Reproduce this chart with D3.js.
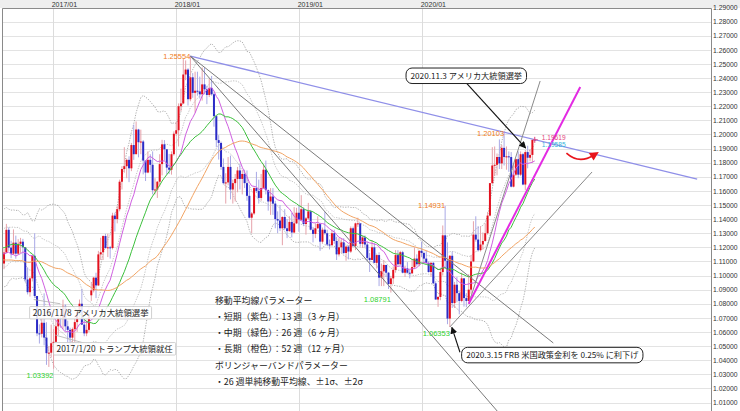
<!DOCTYPE html>
<html><head><meta charset="utf-8">
<script src="https://cdn.jsdelivr.net/npm/d3@7"></script>
<style>
body{margin:0;background:#fff;}
svg{display:block;}
</style>
</head><body>
<svg id="c" width="740" height="411"></svg>
<script>
// ---------------- DATA ----------------
const firstWeek = "2016-08-01";          // Monday of first visible weekly candle
const viewRange = ["2016-08-02", "2022-05-07"]; // time span of the plot area
const priceRange = [1.01, 1.29];
const yTickLabels = ["1.01000","1.02000","1.03000","1.04000","1.05000","1.06000","1.07000","1.08000","1.09000","1.10000",
  "1.11000","1.12000","1.13000","1.14000","1.15000","1.16000","1.17000","1.18000","1.19000","1.20000",
  "1.21000","1.22000","1.23000","1.24000","1.25000","1.26000","1.27000","1.28000","1.29000"];
const yearTicks = ["2017-01-01","2018-01-01","2019-01-01","2020-01-01"];
const yearTickLabels = ["2017/01","2018/01","2019/01","2020/01"];

// weekly closes before the visible range (Aug 2015 - Jul 2016), used for MA / Bollinger warm-up
const warmupCloses = [1.0965,1.1105,1.1385,1.1180,1.1150,1.1340,1.1295,1.1195,1.1215,1.1355,1.1350,1.1015,1.1005,
  1.0740,1.0770,1.0645,1.0595,1.0880,1.0990,1.0865,1.0965,1.0860,1.0925,1.0915,1.0795,1.0830,
  1.1155,1.1255,1.1130,1.0935,1.1000,1.1150,1.1270,1.1165,1.1390,1.1395,1.1285,1.1225,1.1455,
  1.1405,1.1310,1.1225,1.1115,1.1365,1.1255,1.1280,1.1115,1.1135,1.1050,1.1040,1.0975,1.1175];

// weekly OHLC, EUR/USD, Aug 2016 - Nov 2020
const ohlc = [
// 2016
[1.1175,1.1235,1.1046,1.1085],[1.1085,1.1188,1.1045,1.1163],[1.1163,1.1366,1.1160,1.1324],[1.1324,1.1342,1.1175,1.1198],
[1.1198,1.1247,1.1123,1.1155],[1.1155,1.1327,1.1145,1.1233],[1.1233,1.1283,1.1119,1.1155],[1.1155,1.1258,1.1150,1.1225],
[1.1225,1.1267,1.1160,1.1240],[1.1240,1.1260,1.1106,1.1200],[1.1200,1.1202,1.0953,1.0972],[1.0972,1.1058,1.0866,1.0882],
[1.0882,1.0990,1.0851,1.0980],[1.0980,1.1146,1.0958,1.1140],[1.1140,1.1300,1.0840,1.0855],[1.0855,1.0855,1.0570,1.0590],
[1.0590,1.0654,1.0518,1.0587],[1.0587,1.0701,1.0561,1.0665],[1.0665,1.0874,1.0505,1.0560],[1.0560,1.0669,1.0367,1.0450],
[1.0450,1.0499,1.0352,1.0453],[1.0453,1.0652,1.0420,1.0520],
// 2017
[1.0520,1.0620,1.03392,1.0530],[1.0530,1.0684,1.0454,1.0640],[1.0640,1.0775,1.0578,1.0700],[1.0700,1.0775,1.0630,1.0695],
[1.0695,1.0829,1.0620,1.0785],[1.0785,1.0795,1.0605,1.0640],[1.0640,1.0680,1.0520,1.0615],[1.0615,1.0630,1.0494,1.0560],
[1.0560,1.0631,1.0495,1.0620],[1.0620,1.0714,1.0525,1.0670],[1.0670,1.0762,1.0600,1.0740],[1.0740,1.0830,1.0700,1.0800],
[1.0800,1.0906,1.0650,1.0652],[1.0652,1.0700,1.0570,1.0590],[1.0590,1.0680,1.0570,1.0615],[1.0615,1.0780,1.0600,1.0725],
[1.0860,1.0950,1.0820,1.0895],[1.0895,1.0990,1.0880,1.0985],[1.0985,1.1020,1.0840,1.0930],[1.0930,1.1175,1.0925,1.1150],
[1.1150,1.1268,1.1110,1.1165],[1.1165,1.1285,1.1110,1.1280],[1.1280,1.1296,1.1190,1.1195],[1.1195,1.1296,1.1131,1.1200],
[1.1200,1.1210,1.1120,1.1195],[1.1195,1.1445,1.1185,1.1425],[1.1425,1.1445,1.1312,1.1400],[1.1400,1.1490,1.1370,1.1470],
[1.1470,1.1680,1.1455,1.1665],[1.1665,1.1775,1.1610,1.1755],[1.1755,1.1910,1.1729,1.1775],[1.1775,1.1830,1.1690,1.1820],
[1.1820,1.1845,1.1662,1.1760],[1.1760,1.1940,1.1740,1.1925],[1.1925,1.2070,1.1820,1.1860],[1.1860,1.2092,1.1860,1.2035],
[1.2035,1.2040,1.1838,1.1945],[1.1945,1.2034,1.1860,1.1950],[1.1950,1.1960,1.1717,1.1815],[1.1815,1.1815,1.1670,1.1730],
[1.1730,1.1880,1.1725,1.1820],[1.1820,1.1860,1.1730,1.1785],[1.1785,1.1880,1.1575,1.1605],[1.1605,1.1690,1.1575,1.1610],
[1.1610,1.1670,1.1550,1.1665],[1.1665,1.1860,1.1630,1.1790],[1.1790,1.1962,1.1710,1.1930],[1.1930,1.1960,1.1815,1.1895],
[1.1895,1.1895,1.1715,1.1765],[1.1765,1.1862,1.1720,1.1750],[1.1750,1.1880,1.1715,1.1860],[1.1860,1.2022,1.1850,1.2005],
// 2018
[1.2005,1.2090,1.1990,1.2030],[1.2030,1.2220,1.1915,1.2200],[1.2200,1.2325,1.2165,1.2220],[1.2220,1.2537,1.2215,1.2425],
[1.2425,1.2525,1.2385,1.2460],[1.2460,1.2470,1.2205,1.2250],[1.2250,1.25554,1.2235,1.2405],[1.2405,1.2435,1.2260,1.2295],
[1.2295,1.2445,1.2155,1.2310],[1.2310,1.2445,1.2275,1.2305],[1.2305,1.2410,1.2255,1.2285],[1.2285,1.2475,1.2240,1.2355],
[1.2355,1.2475,1.2285,1.2320],[1.2320,1.2345,1.2215,1.2280],[1.2280,1.2395,1.2265,1.2330],[1.2330,1.2415,1.2275,1.2285],
[1.2285,1.2295,1.2055,1.2130],[1.2130,1.2135,1.1910,1.1960],[1.1960,1.1995,1.1822,1.1940],[1.1940,1.1950,1.1750,1.1770],
[1.1770,1.1830,1.1645,1.1655],[1.1655,1.1725,1.1510,1.1660],[1.1660,1.1840,1.1640,1.1770],[1.1770,1.1850,1.1540,1.1610],
[1.1610,1.1680,1.1510,1.1655],[1.1655,1.1720,1.1525,1.1685],[1.1685,1.1770,1.1590,1.1745],[1.1745,1.1790,1.1610,1.1685],
[1.1685,1.1745,1.1575,1.1720],[1.1720,1.1750,1.1620,1.1655],[1.1655,1.1745,1.1530,1.1565],[1.1565,1.1640,1.1405,1.1410],
[1.1410,1.1450,1.1300,1.1440],[1.1440,1.1625,1.1430,1.1620],[1.1620,1.1735,1.1585,1.1600],[1.1600,1.1680,1.1510,1.1550],
[1.1550,1.1720,1.1530,1.1620],[1.1620,1.1790,1.1615,1.1750],[1.1750,1.1815,1.1575,1.1605],[1.1605,1.1610,1.1460,1.1525],
[1.1525,1.1620,1.1430,1.1560],[1.1560,1.1620,1.1430,1.1510],[1.1510,1.1530,1.1335,1.1400],[1.1400,1.1455,1.1300,1.1390],
[1.1390,1.1500,1.1315,1.1335],[1.1335,1.1420,1.1215,1.1415],[1.1415,1.1470,1.1325,1.1335],[1.1335,1.1400,1.1265,1.1315],
[1.1315,1.1420,1.1310,1.1380],[1.1380,1.1445,1.1270,1.1305],[1.1305,1.1485,1.1300,1.1370],[1.1370,1.1480,1.1365,1.1445],
// 2019
[1.1445,1.1500,1.1310,1.1395],[1.1395,1.1570,1.1390,1.1470],[1.1470,1.1485,1.1350,1.1365],[1.1365,1.1415,1.1290,1.1405],
[1.1405,1.1515,1.1395,1.1455],[1.1455,1.1465,1.1320,1.1325],[1.1325,1.1345,1.1235,1.1295],[1.1295,1.1370,1.1265,1.1335],
[1.1335,1.1420,1.1330,1.1365],[1.1365,1.1375,1.1175,1.1240],[1.1240,1.1340,1.1225,1.1325],[1.1325,1.1450,1.1290,1.1300],
[1.1300,1.1325,1.1210,1.1220],[1.1220,1.1255,1.1185,1.1215],[1.1215,1.1325,1.1215,1.1300],[1.1300,1.1325,1.1225,1.1245],
[1.1245,1.1275,1.1110,1.1150],[1.1150,1.1265,1.1135,1.1200],[1.1200,1.1265,1.1160,1.1235],[1.1235,1.1265,1.1150,1.1160],
[1.1160,1.1215,1.1105,1.1205],[1.1205,1.1215,1.1115,1.1170],[1.1170,1.1348,1.1160,1.1335],[1.1335,1.1347,1.1200,1.1210],
[1.1210,1.1375,1.1180,1.1370],[1.1370,1.1410,1.1345,1.1370],[1.1370,1.1370,1.1205,1.1225],[1.1225,1.1285,1.1195,1.1270],
[1.1270,1.1285,1.1200,1.1220],[1.1220,1.1240,1.1100,1.1125],[1.1125,1.1160,1.1025,1.1110],[1.1110,1.1250,1.1110,1.1200],
[1.1200,1.1230,1.1090,1.1090],[1.1090,1.1150,1.1050,1.1145],[1.1145,1.1165,1.0925,1.0985],[1.0985,1.1085,1.0925,1.1030],
[1.1030,1.1110,1.0925,1.1075],[1.1075,1.1075,1.0990,1.1020],[1.1020,1.1025,1.0905,1.0940],[1.0940,1.0998,1.08791,1.0980],
[1.0980,1.1065,1.0940,1.1040],[1.1040,1.1180,1.1020,1.1145],[1.1145,1.1180,1.1070,1.1080],[1.1080,1.1175,1.1075,1.1165],
[1.1165,1.1175,1.1015,1.1020],[1.1020,1.1070,1.0990,1.1050],[1.1050,1.1095,1.1015,1.1020],[1.1020,1.1040,1.0980,1.1015],
[1.1015,1.1115,1.1015,1.1060],[1.1060,1.1200,1.1045,1.1120],[1.1120,1.1150,1.1065,1.1080],[1.1080,1.1180,1.1065,1.1175],
// 2020
[1.1175,1.1240,1.1130,1.1160],[1.1160,1.1170,1.1085,1.1120],[1.1120,1.1175,1.1085,1.1090],[1.1090,1.1100,1.1020,1.1025],
[1.1025,1.1095,1.0990,1.1090],[1.1090,1.1095,1.0940,1.0945],[1.0945,1.0960,1.0830,1.0830],[1.0830,1.0855,1.0778,1.0848],
[1.0848,1.1055,1.0825,1.1025],[1.1025,1.1355,1.1000,1.1285],[1.1285,1.14931,1.1055,1.1105],[1.1105,1.1235,1.0655,1.0695],
[1.0695,1.1145,1.06353,1.1140],[1.1140,1.1170,1.0770,1.0805],[1.0805,1.0955,1.0770,1.0935],[1.0935,1.0990,1.0810,1.0875],
[1.0875,1.0890,1.0725,1.0820],[1.0820,1.1020,1.0810,1.0980],[1.0980,1.0980,1.0780,1.0840],[1.0840,1.0875,1.0775,1.0820],
[1.0820,1.1010,1.0815,1.0900],[1.0900,1.1145,1.0870,1.1100],[1.1100,1.1385,1.1095,1.1290],[1.1290,1.1420,1.1240,1.1255],
[1.1255,1.1350,1.1170,1.1180],[1.1180,1.1350,1.1170,1.1220],[1.1220,1.1305,1.1185,1.1245],[1.1245,1.1370,1.1240,1.1300],
[1.1300,1.1450,1.1290,1.1425],[1.1425,1.1655,1.1420,1.1655],[1.1655,1.1910,1.1645,1.1780],[1.1780,1.1915,1.1705,1.1785],
[1.1785,1.1865,1.1710,1.1840],[1.1840,1.1965,1.1755,1.1795],[1.1795,1.1925,1.1755,1.1905],[1.1905,1.20103,1.1780,1.1840],
[1.1840,1.1915,1.1750,1.1845],[1.1845,1.1880,1.1735,1.1840],[1.1840,1.1875,1.1625,1.1630],[1.1630,1.1785,1.1625,1.1715],
[1.1715,1.1830,1.1705,1.1825],[1.1825,1.1880,1.1690,1.1715],[1.1715,1.1880,1.1705,1.1860],[1.1860,1.1870,1.1640,1.1645],
[1.1645,1.1890,1.1605,1.1875],[1.1875,1.1920,1.1760,1.1835],[1.1835,1.1895,1.1810,1.1855],[1.1855,1.1965,1.1800,1.1962],
[1.1962,1.1970,1.1958,1.19619]
];

const maPeriods = [13, 26, 52];
const maColors = ["#cf5ee0", "#3cc03c", "#f2a464"];
const bbPeriod = 26, bbSigmas = [-2, -1, 1, 2];

// labelled highs / lows
const extremes = [
  {date:"2018-02-12", price:1.25554, kind:"high", color:"#f07c22"},
  {date:"2017-01-02", price:1.03392, kind:"low",  color:"#2ed12e"},
  {date:"2020-03-09", price:1.14931, kind:"high", color:"#f07c22"},
  {date:"2019-09-30", price:1.08791, kind:"low",  color:"#2ed12e"},
  {date:"2020-03-23", price:1.06353, kind:"low",  color:"#2ed12e"},
  {date:"2020-08-31", price:1.20103, kind:"high", color:"#f07c22"}
];
const lastQuotes = [{price:1.19619, color:"#e2457e"}, {price:1.19585, color:"#34b6dc"}];

// hand-drawn trend lines (date, price) -> (date, price)
const trendLines = [
  {from:["2018-02-12",1.25554], to:["2022-03-27",1.1684], color:"#8f8fe8", width:1.3},
  {from:["2018-02-12",1.25554], to:["2021-01-24",1.0522], color:"#7a7a7a", width:1},
  {from:["2018-02-12",1.25554], to:["2020-08-14",1.0030], color:"#7a7a7a", width:1},
  {from:["2020-05-18",1.0800],  to:["2020-12-16",1.2379], color:"#8a8a8a", width:1},
  {from:["2020-03-23",1.06353], to:["2021-05-19",1.1734], color:"#8a8a8a", width:1},
  {from:["2020-05-18",1.0800],  to:["2021-04-14",1.2336], color:"#e32be3", width:2}
];

// call-out boxes: top-left of box, arrow tail, arrow tip
const callouts = [
  {text:"2020.11.3 アメリカ大統領選挙", box:["2019-11-14",1.2471], tail:["2020-05-12",1.2363], tip:["2020-11-03",1.1904], round:true},
  {text:"2020.3.15 FRB 米国政策金利を 0.25% に利下げ", box:["2020-04-27",1.0491], tail:["2020-04-22",1.0456], tip:["2020-03-29",1.0633], round:true},
  {text:"2016/11/8 アメリカ大統領選挙", box:["2016-10-23",1.0781], tail:["2016-11-04",1.0830], tip:["2017-01-22",1.0800], round:false},
  {text:"2017/1/20 トランプ大統領就任", box:["2017-01-02",1.0525], tail:["2017-01-07",1.0578], tip:["2017-03-31",1.0523], round:false}
];
const redArrow = {start:["2021-03-04",1.1868], ctrl:["2021-04-10",1.1788], end:["2021-05-24",1.1853]};

const notes = ["移動平均線パラメーター","・短期（紫色）：13 週（3 ヶ月）","・中期（緑色）：26 週（6 ヶ月）",
  "・長期（橙色）：52 週（12 ヶ月）","ボリンジャーバンドパラメーター","・26 週単純移動平均線、±1σ、±2σ"];

// ---------------- CHART ----------------
const svg = d3.select("#c");
const plot = {l:2, t:8, r:711, b:411};
const parse = d3.timeParse("%Y-%m-%d");
const x = d3.scaleTime().domain(viewRange.map(parse)).range([plot.l, plot.r]);
const y = d3.scaleLinear().domain(priceRange).range([402.5, 7.5]);
const P = a => [x(parse(a[0])), y(a[1])];
const latin = "'Liberation Sans', Arial, sans-serif";
const cjk = "'Noto Sans CJK JP', 'Noto Sans', sans-serif";

const start = parse(firstWeek);
const candles = ohlc.map((d,i)=>({date:d3.timeMonday.offset(start,i), o:d[0], h:d[1], l:d[2], c:d[3]}));
const allC = warmupCloses.concat(ohlc.map(d=>d[3]));
const W0 = warmupCloses.length;

svg.append("rect").attr("x",0).attr("y",0).attr("width",740).attr("height",411).attr("fill","#fff");
svg.append("rect").attr("x",0).attr("y",0).attr("width",740).attr("height",plot.t).attr("fill","#eeeeee");

// grid
const yVals = yTickLabels.map(Number);
svg.append("g").selectAll("line").data(yVals).join("line")
  .attr("x1",plot.l).attr("x2",plot.r).attr("y1",d=>Math.round(y(d))+0.5).attr("y2",d=>Math.round(y(d))+0.5)
  .attr("stroke","#e3e3e3").attr("stroke-width",1);
svg.append("g").selectAll("line").data(yearTicks).join("line")
  .attr("x1",d=>Math.round(x(parse(d)))+0.5).attr("x2",d=>Math.round(x(parse(d)))+0.5)
  .attr("y1",plot.t).attr("y2",plot.b).attr("stroke","#dcdcdc");

// right axis
const yAxis = d3.axisRight(y).tickValues(yVals).tickFormat((d,i)=>yTickLabels[i]).tickSize(0).tickPadding(2);
svg.append("g").attr("transform",`translate(${plot.r},0)`).call(yAxis)
  .call(g=>g.select(".domain").remove())
  .call(g=>g.selectAll("text").attr("font-family",latin).attr("font-size",6.8).attr("fill","#333"));
// top axis
const xAxis = d3.axisTop(x).tickValues(yearTicks.map(parse)).tickFormat((d,i)=>yearTickLabels[i]).tickSize(0).tickPadding(0);
svg.append("g").attr("transform",`translate(0,${plot.t-1})`).call(xAxis)
  .call(g=>g.select(".domain").remove())
  .call(g=>g.selectAll("text").attr("font-family",latin).attr("font-size",7).attr("fill","#333")
     .attr("text-anchor","start").attr("dx",-2));

// clip
svg.append("clipPath").attr("id","clip").append("rect")
  .attr("x",plot.l).attr("y",plot.t).attr("width",plot.r-plot.l).attr("height",plot.b-plot.t);
const g = svg.append("g").attr("clip-path","url(#clip)");

// indicators
function sma(n,gi){ let s=0; for(let k=gi-n+1;k<=gi;k++) s+=allC[k]; return s/n; }
function sd(n,gi,m){ let s=0; for(let k=gi-n+1;k<=gi;k++) s+=(allC[k]-m)**2; return Math.sqrt(s/n); }
const line = d3.line().x(d=>x(d.date)).y(d=>y(d.v));

bbSigmas.forEach(k=>{
  const pts = candles.map((c,i)=>{const gi=W0+i; const m=sma(bbPeriod,gi); return {date:c.date, v:m+k*sd(bbPeriod,gi,m)};});
  g.append("path").attr("d",line(pts)).attr("fill","none")
    .attr("stroke", Math.abs(k)===2 ? "#9c9c9c" : "#b4b4b4").attr("stroke-width",0.8)
    .attr("stroke-dasharray","1.3,1.3");
});

// candles
const up = d=>d.c>=d.o;
const cg = g.append("g");
cg.selectAll("line").data(candles).join("line")
  .attr("x1",d=>x(d.date)).attr("x2",d=>x(d.date)).attr("y1",d=>y(d.h)).attr("y2",d=>y(d.l))
  .attr("stroke",d=>up(d)?"#e6a2aa":"#a9a9e6").attr("stroke-width",1);
cg.selectAll("rect").data(candles).join("rect")
  .attr("x",d=>x(d.date)-1).attr("width",2)
  .attr("y",d=>y(Math.max(d.o,d.c))).attr("height",d=>Math.max(1,Math.abs(y(d.o)-y(d.c))))
  .attr("fill",d=>up(d)?"#e3101e":"#2b2bc6");

// moving averages
maPeriods.forEach((n,j)=>{
  const pts = candles.map((c,i)=>({date:c.date, v:sma(n,W0+i)}));
  g.append("path").attr("d",line(pts)).attr("fill","none").attr("stroke",maColors[j]).attr("stroke-width",1);
});

// trend lines
g.selectAll(".tl").data(trendLines).join("line").attr("class","tl")
  .attr("x1",d=>P(d.from)[0]).attr("y1",d=>P(d.from)[1]).attr("x2",d=>P(d.to)[0]).attr("y2",d=>P(d.to)[1])
  .attr("stroke",d=>d.color).attr("stroke-width",d=>d.width);

// high / low labels
g.selectAll(".ex").data(extremes).join("text").attr("class","ex")
  .attr("x",d=>x(parse(d.date)))
  .attr("y",d=>y(d.price)+(d.kind==="high"?2.5:9.5))
  .attr("text-anchor","end").attr("font-family",latin).attr("font-size",7.5).attr("fill",d=>d.color)
  .text(d=>d.price.toFixed(5));

// last quote labels
const last = candles[candles.length-1];
g.append("path").attr("d",`M${x(last.date)},${y(last.c)-3}V${y(last.c)+3}M${x(last.date)-2},${y(last.c)}H${x(last.date)+3}`)
  .attr("stroke","#e2457e").attr("stroke-width",1);
g.selectAll(".lq").data(lastQuotes).join("text").attr("class","lq")
  .attr("x",x(last.date)+7).attr("y",(d,i)=>y(lastQuotes[0].price)+0.5+i*7)
  .attr("font-family",latin).attr("font-size",6.6).attr("fill",d=>d.color).text(d=>d.price.toFixed(5));

// red curved arrow
{
  const s=P(redArrow.start), c=P(redArrow.ctrl), e=P(redArrow.end);
  g.append("path").attr("d",`M${s}Q${c} ${e}`).attr("fill","none").attr("stroke","#e8141c").attr("stroke-width",1.6);
  const ang = Math.atan2(e[1]-c[1], e[0]-c[0]);
  const L=9, Wd=4.5;
  const tip=[e[0]+Math.cos(ang)*6, e[1]+Math.sin(ang)*6];
  const b=[tip[0]-Math.cos(ang)*L, tip[1]-Math.sin(ang)*L];
  const nx=-Math.sin(ang), ny=Math.cos(ang);
  g.append("path").attr("d",`M${tip}L${b[0]+nx*Wd},${b[1]+ny*Wd}L${b[0]-nx*Wd},${b[1]-ny*Wd}Z`).attr("fill","#e8141c");
}

// call-outs
const defs = svg.append("defs");
defs.append("marker").attr("id","ah").attr("viewBox","0 0 10 10").attr("refX",9).attr("refY",5)
  .attr("markerWidth",7).attr("markerHeight",7).attr("markerUnits","userSpaceOnUse").attr("orient","auto")
  .append("path").attr("d","M0,0L10,5L0,10Z").attr("fill","#111");
const ag = svg.append("g");
callouts.forEach(cd=>{
  const t=P(cd.tail), p=P(cd.tip);
  ag.append("line").attr("x1",t[0]).attr("y1",t[1]).attr("x2",p[0]).attr("y2",p[1])
    .attr("stroke",cd.round?"#111":"#b0b0b0").attr("stroke-width",cd.round?1.1:0.8)
    .attr("marker-end",cd.round?"url(#ah)":null);
});
callouts.forEach(cd=>{
  const b=P(cd.box);
  const grp = ag.append("g");
  const rect = grp.append("rect");
  const fs = cd.round?8.2:8.4;
  const txt = grp.append("text").attr("font-family",cjk).attr("font-size",fs).attr("fill","#222").text(cd.text);
  const tw = txt.node().getComputedTextLength();
  const padX = cd.round?4.5:3, h = cd.round?15.5:12.5;
  txt.attr("x",b[0]+padX).attr("y",b[1]+h/2+fs*0.36);
  rect.attr("x",b[0]).attr("y",b[1]).attr("width",tw+2*padX).attr("height",h)
    .attr("rx",cd.round?6:1).attr("fill",cd.round?"#fff":"rgba(255,255,255,0.88)")
    .attr("stroke",cd.round?"#222":"#c4c4c4").attr("stroke-width",cd.round?1:0.8);
});

// notes
svg.append("g").selectAll("text").data(notes).join("text")
  .attr("x",215).attr("y",(d,i)=>303.5+i*16.3)
  .attr("font-family",cjk).attr("font-size",8.9).attr("fill","#222").text(d=>d);

// frame
svg.append("path").attr("d",`M${plot.l+0.5},${plot.b}V${plot.t+0.5}H${plot.r+0.5}V${plot.b}`)
  .attr("fill","none").attr("stroke","#8a8a8a").attr("stroke-width",1);
</script>
</body></html>
